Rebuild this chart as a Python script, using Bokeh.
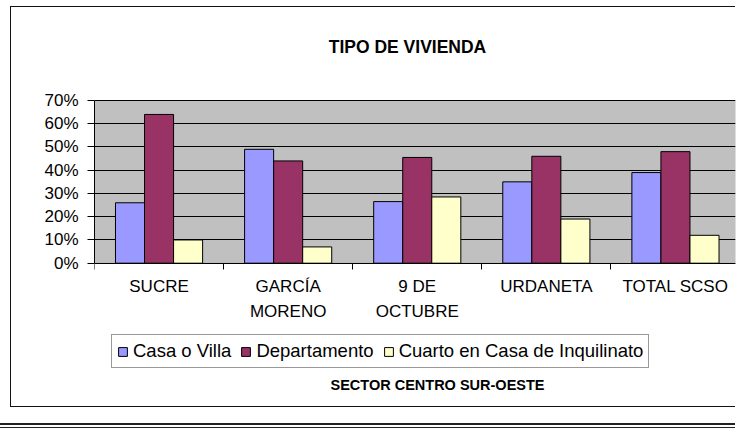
from bokeh.plotting import figure
from bokeh.models import (ColumnDataSource, FixedTicker, Range1d, Legend, LegendItem,
                          Label, BoxAnnotation, InlineStyleSheet)
from bokeh.embed import file_html
from bokeh.resources import INLINE
import numpy as np

# ---- data ----
categories = ["SUCRE", "GARCÍA\nMORENO", "9 DE\nOCTUBRE", "URDANETA", "TOTAL SCSO"]
casa = [26, 49, 26.5, 35, 39]
depto = [64, 44, 45.5, 46, 48]
cuarto = [10, 7, 28.5, 19, 12]
series_names = ["Casa o Villa", "Departamento", "Cuarto en Casa de Inquilinato"]
series_colors = ["#9999FF", "#993366", "#FFFFCC"]
y_ticks = [0, 10, 20, 30, 40, 50, 60, 70]
y_labels = ["0%", "10%", "20%", "30%", "40%", "50%", "60%", "70%"]
title_text = "TIPO DE VIVIENDA"
x_title_text = "SECTOR CENTRO SUR-OESTE"

FONT = "Liberation Sans"
n = len(categories)
centers = np.arange(n) + 0.5
bar_w = 0.225
Y_MAX = 70
PLOT_TOP = 100          # pixel row of 70%
ZERO_ROW = 262.7        # pixel row of 0%
FRAME_TOP = 20
FRAME_BOTTOM = 408
PX_PER_UNIT = (ZERO_ROW - PLOT_TOP) / Y_MAX
Y_HI = Y_MAX + (PLOT_TOP - FRAME_TOP) / PX_PER_UNIT
Y_LO = -(FRAME_BOTTOM - ZERO_ROW) / PX_PER_UNIT
PX_PER_CAT = 129.1


def row_to_y(row):
    return (ZERO_ROW - row) / PX_PER_UNIT


def col_to_x(col):
    return (col - 94) / PX_PER_CAT


css = InlineStyleSheet(css="""
:host { position: relative; }
:host::after {
  content: ''; position: absolute; box-sizing: border-box; z-index: 2;
  left: 10px; top: 6px; width: 725px; height: 401px;
  border-left: 1.5px solid #111; border-top: 1.5px solid #111;
  border-bottom: 1.5px solid #111; pointer-events: none;
}
:host::before {
  content: ''; position: absolute; box-sizing: border-box; z-index: 2;
  left: 0px; top: 423px; width: 735px; height: 5px;
  border-top: 2px solid #222; border-bottom: 1px solid #222; pointer-events: none;
}
""")

p = figure(width=743, height=428, output_backend="svg", toolbar_location=None,
           x_range=Range1d(0, 641 / PX_PER_CAT), y_range=Range1d(Y_LO, Y_HI),
           min_border_left=94, min_border_right=8, min_border_top=FRAME_TOP,
           min_border_bottom=428 - FRAME_BOTTOM)
p.title.visible = False
p.stylesheets = [css]
p.background_fill_color = "white"
p.border_fill_color = "white"
p.outline_line_color = None

# gray plot area (0% .. 70%)
p.add_layout(BoxAnnotation(bottom=0, top=Y_MAX, fill_color="#C0C0C0", fill_alpha=1,
                           line_color="#808080", line_width=1, level="image"))

renderers = []
for vals, off, col in zip([casa, depto, cuarto], [-bar_w, 0, bar_w], series_colors):
    src = ColumnDataSource(dict(x=centers + off, top=vals))
    r = p.vbar(x="x", top="top", bottom=0, width=bar_w, source=src,
               fill_color=col, line_color="black", line_width=1)
    renderers.append(r)

# y axis
ya = p.yaxis[0]
ya.ticker = FixedTicker(ticks=y_ticks, minor_ticks=[])
ya.bounds = (0, Y_MAX)
ya.major_label_overrides = {t: l for t, l in zip(y_ticks, y_labels)}
ya.major_tick_in = 0
ya.major_tick_out = 7
ya.major_tick_line_color = "black"
ya.axis_line_color = "black"
ya.major_label_standoff = 9
ya.major_label_text_font = FONT
ya.major_label_text_font_size = "17px"
ya.major_label_text_color = "black"

# grid
p.ygrid.ticker = FixedTicker(ticks=y_ticks)
p.ygrid.grid_line_color = "black"
p.ygrid.grid_line_width = 1
p.xgrid.grid_line_color = None

# x axis at 0%: labels at centers, ticks at boundaries (minor)
xa = p.xaxis[0]
xa.fixed_location = 0
xa.ticker = FixedTicker(ticks=list(centers), minor_ticks=list(range(n)))
xa.major_label_overrides = {float(c): lab for c, lab in zip(centers, categories)}
xa.major_tick_in = 0
xa.major_tick_out = 0
xa.minor_tick_in = 0
xa.minor_tick_out = 6
xa.minor_tick_line_color = "black"
xa.axis_line_color = "black"
xa.major_label_standoff = 8
xa.major_label_text_font = FONT
xa.major_label_text_font_size = "17px"
xa.major_label_text_color = "black"
xa.major_label_text_line_height = 1.3

# legend
legend = Legend(items=[LegendItem(label=nm, renderers=[r]) for nm, r in zip(series_names, renderers)],
                orientation="horizontal", location=(17, 40))
legend.label_text_font = FONT
legend.label_text_font_size = "18.5px"
legend.label_text_color = "black"
legend.glyph_width = 11
legend.glyph_height = 11
legend.label_standoff = 5
legend.spacing = 9
legend.padding = 5
legend.margin = 0
legend.border_line_color = "#333333"
legend.border_line_width = 1
legend.background_fill_color = "white"
legend.background_fill_alpha = 1
p.add_layout(legend)

# titles
p.add_layout(Label(x=col_to_x(407), y=row_to_y(46.3), text=title_text,
                   text_font=FONT, text_font_size="17.5px", text_font_style="bold",
                   text_align="center", text_baseline="middle", text_color="black"))
p.add_layout(Label(x=col_to_x(437), y=row_to_y(384), text=x_title_text,
                   text_font=FONT, text_font_size="14.5px", text_font_style="bold",
                   text_align="center", text_baseline="middle", text_color="black"))

open("out.html", "w").write(file_html(p, INLINE))
